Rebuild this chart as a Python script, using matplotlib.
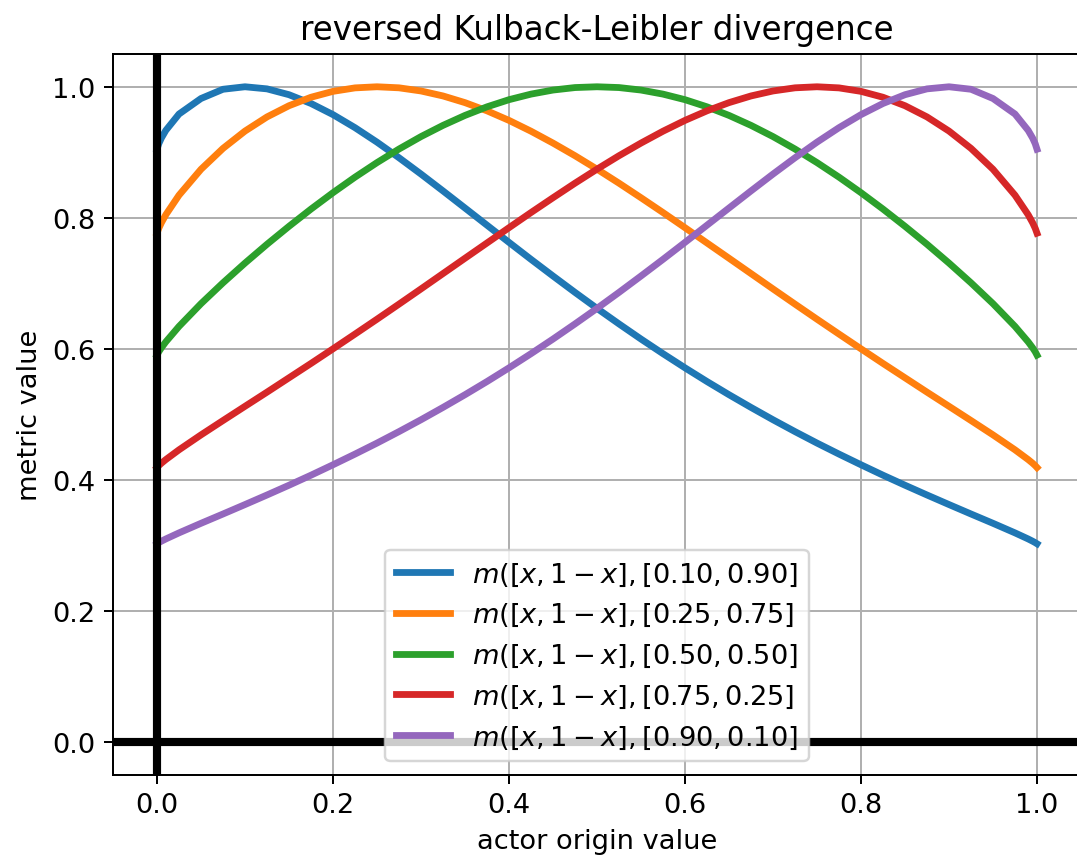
import numpy as np
import matplotlib.pyplot as plt

plt.rcParams['font.size'] = 11

# actor origin values (x) and metric values
x = [0.0, 0.002, 0.005, 0.01, 0.025, 0.05, 0.075, 0.1, 0.125, 0.15, 0.175, 0.2,
     0.225, 0.25, 0.275, 0.3, 0.325, 0.35, 0.375, 0.4, 0.425, 0.45, 0.475, 0.5,
     0.525, 0.55, 0.575, 0.6, 0.625, 0.65, 0.675, 0.7, 0.725, 0.75, 0.775, 0.8,
     0.825, 0.85, 0.875, 0.9, 0.925, 0.95, 0.975, 0.99, 0.995, 0.998, 1.0]

m_10_90 = [0.9047, 0.9130, 0.9218, 0.9334, 0.9584, 0.9821, 0.9962, 1.0000, 0.9968,
           0.9879, 0.9745, 0.9575, 0.9376, 0.9155, 0.8917, 0.8668, 0.8411, 0.8150,
           0.7888, 0.7626, 0.7367, 0.7113, 0.6863, 0.6619, 0.6382, 0.6151, 0.5928,
           0.5712, 0.5503, 0.5302, 0.5108, 0.4920, 0.4739, 0.4564, 0.4396, 0.4233,
           0.4074, 0.3921, 0.3772, 0.3626, 0.3482, 0.3340, 0.3194, 0.3101, 0.3067,
           0.3045, 0.3028]
m_25_75 = [0.7766, 0.7840, 0.7926, 0.8047, 0.8346, 0.8741, 0.9060, 0.9324, 0.9540,
           0.9711, 0.9840, 0.9930, 0.9983, 1.0000, 0.9984, 0.9936, 0.9860, 0.9758,
           0.9633, 0.9487, 0.9322, 0.9141, 0.8948, 0.8743, 0.8529, 0.8307, 0.8081,
           0.7850, 0.7617, 0.7384, 0.7150, 0.6916, 0.6684, 0.6454, 0.6227, 0.6002,
           0.5779, 0.5560, 0.5341, 0.5125, 0.4908, 0.4689, 0.4461, 0.4312, 0.4257,
           0.4220, 0.4191]
m_50_50 = [0.5906, 0.5957, 0.6018, 0.6108, 0.6344, 0.6691, 0.7009, 0.7310, 0.7597,
           0.7871, 0.8134, 0.8384, 0.8621, 0.8843, 0.9050, 0.9240, 0.9411, 0.9563,
           0.9694, 0.9803, 0.9888, 0.9950, 0.9988, 1.0000, 0.9988, 0.9950, 0.9888,
           0.9803, 0.9694, 0.9563, 0.9411, 0.9240, 0.9050, 0.8843, 0.8621, 0.8384,
           0.8134, 0.7871, 0.7597, 0.7310, 0.7009, 0.6691, 0.6344, 0.6108, 0.6018,
           0.5957, 0.5906]
m_75_25 = [0.4191, 0.4220, 0.4257, 0.4312, 0.4461, 0.4689, 0.4908, 0.5125, 0.5341,
           0.5560, 0.5779, 0.6002, 0.6227, 0.6454, 0.6684, 0.6916, 0.7150, 0.7384,
           0.7617, 0.7850, 0.8081, 0.8307, 0.8529, 0.8743, 0.8948, 0.9141, 0.9322,
           0.9487, 0.9633, 0.9758, 0.9860, 0.9936, 0.9984, 1.0000, 0.9983, 0.9930,
           0.9840, 0.9711, 0.9540, 0.9324, 0.9060, 0.8741, 0.8346, 0.8047, 0.7926,
           0.7840, 0.7766]
m_90_10 = [0.3028, 0.3045, 0.3067, 0.3101, 0.3194, 0.3340, 0.3482, 0.3626, 0.3772,
           0.3921, 0.4074, 0.4233, 0.4396, 0.4564, 0.4739, 0.4920, 0.5108, 0.5302,
           0.5503, 0.5712, 0.5928, 0.6151, 0.6382, 0.6619, 0.6863, 0.7113, 0.7367,
           0.7626, 0.7888, 0.8150, 0.8411, 0.8668, 0.8917, 0.9155, 0.9376, 0.9575,
           0.9745, 0.9879, 0.9968, 1.0000, 0.9962, 0.9821, 0.9584, 0.9334, 0.9218,
           0.9130, 0.9047]

series = [
    {"target": "0.10, 0.90", "y": m_10_90},
    {"target": "0.25, 0.75", "y": m_25_75},
    {"target": "0.50, 0.50", "y": m_50_50},
    {"target": "0.75, 0.25", "y": m_75_25},
    {"target": "0.90, 0.10", "y": m_90_10},
]

dpi = 178
fig = plt.figure(figsize=(1077 / dpi, 858 / dpi), dpi=dpi)
ax = fig.add_axes([113 / 1077, 1 - 776 / 858, 968 / 1077, 721 / 858])

for s in series:
    ax.plot(x, s["y"], lw=2.75, label=r"$m([x, 1-x], [%s]$" % s["target"])

ax.axhline(0, color='k', lw=3.3)
ax.axvline(0, color='k', lw=3.3)
ax.grid(True)
ax.set_xlim(-0.05, 1.05)
ax.set_ylim(-0.05, 1.05)
ax.set_title("reversed Kulback-Leibler divergence")
ax.set_xlabel("actor origin value")
ax.set_ylabel("metric value")
ax.legend(loc='lower center')

fig.savefig("out.png", dpi=dpi)
